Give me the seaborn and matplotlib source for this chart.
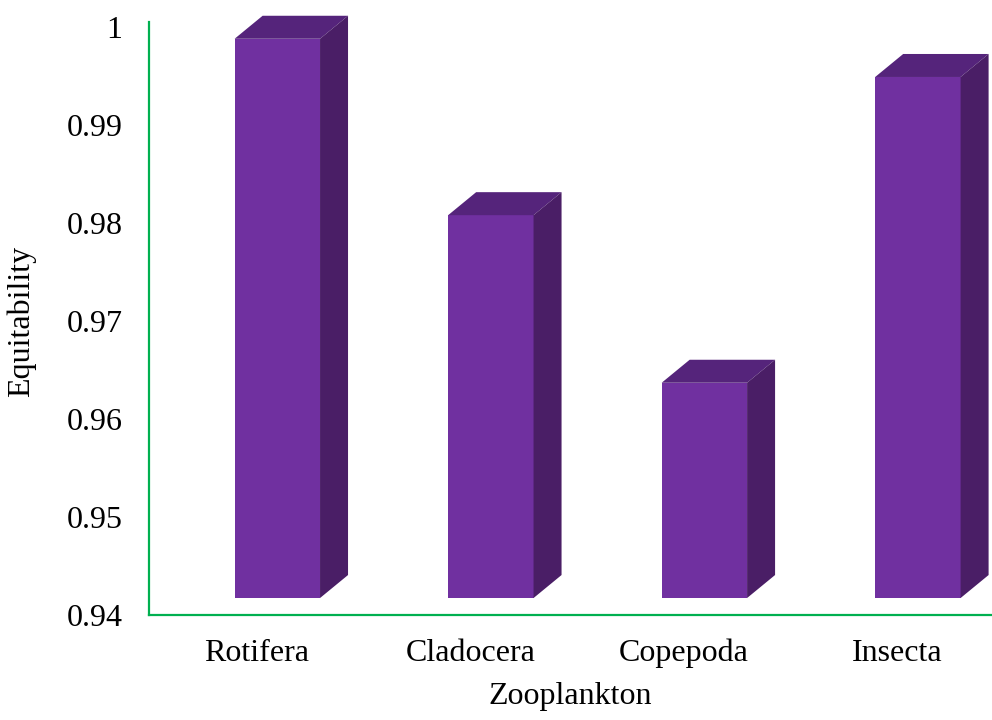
import numpy as np
import pandas as pd
import seaborn as sns
import matplotlib.pyplot as plt
from matplotlib.patches import Polygon

groups = ['Rotifera', 'Cladocera', 'Copepoda', 'Insecta']
equitability = [0.9988, 0.9808, 0.9637, 0.9949]

df = pd.DataFrame({'Zooplankton': groups, 'Equitability': equitability})

front = '#7030A0'
top_col = '#55247B'
side_col = '#4A1E66'
green = '#00B050'

sns.set_style('white')
plt.rcParams['font.family'] = ['Liberation Serif', 'DejaVu Serif']
plt.rcParams['text.color'] = 'black'
plt.rcParams['axes.labelcolor'] = 'black'
plt.rcParams['xtick.color'] = 'black'
plt.rcParams['ytick.color'] = 'black'

fig = plt.figure(figsize=(9.92, 7.2), dpi=100)
ax = fig.add_axes([0.1502, 0.1458, 0.85, 0.8167])

sns.barplot(data=df, x='Zooplankton', y='Equitability', color=front,
            saturation=1, width=0.4, ax=ax)

ax.set_xlim(-0.506, 3.443)
ax.set_ylim(0.94, 1.0)
ax.set_yticks([0.94, 0.95, 0.96, 0.97, 0.98, 0.99, 1.0])
ax.set_yticklabels(['0.94', '0.95', '0.96', '0.97', '0.98', '0.99', '1'])

for s in ['top', 'right']:
    ax.spines[s].set_visible(False)
for s in ['left', 'bottom']:
    ax.spines[s].set_color(green)
    ax.spines[s].set_linewidth(1.6)
ax.spines['left'].set_bounds(0.94, 1.0005)

ax.tick_params(axis='both', length=0, labelsize=23)
ax.tick_params(axis='y', pad=19)
ax.tick_params(axis='x', pad=17)
ax.set_xlabel('Zooplankton', fontsize=23, labelpad=10)
ax.set_ylabel('Equitability', fontsize=23, labelpad=22)

# floor lift and depth offset of the 3D look, in pixels
floor = 0.94 + 17 / 98 * 0.01
dx, dy = 28, 23
to_disp = ax.transData.transform
to_data = ax.transData.inverted().transform

for p in ax.patches:
    p.set_x(p.get_x() + 0.095)
    h = p.get_y() + p.get_height()
    p.set_y(floor)
    p.set_height(h - floor)
    p.set_edgecolor('none')
    x0, x1 = p.get_x(), p.get_x() + p.get_width()

    def shifted(x, y):
        d = to_disp((x, y)) + np.array([dx, dy])
        return to_data(d)

    top_pts = [(x0, h), (x1, h), shifted(x1, h), shifted(x0, h)]
    side_pts = [(x1, floor), (x1, h), shifted(x1, h), shifted(x1, floor)]
    ax.add_patch(Polygon(top_pts, closed=True, facecolor=top_col,
                         edgecolor='none', clip_on=False))
    ax.add_patch(Polygon(side_pts, closed=True, facecolor=side_col,
                         edgecolor='none', clip_on=False))

fig.savefig('out.png', dpi=100)
